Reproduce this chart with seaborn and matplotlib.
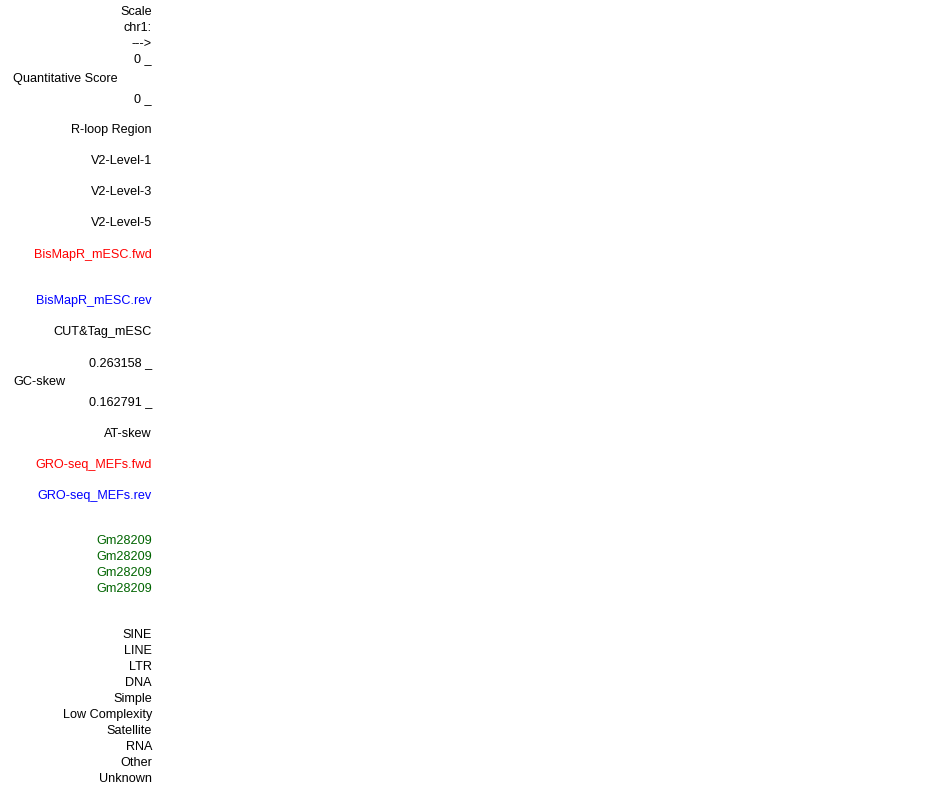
import matplotlib
matplotlib.use("Agg")
import matplotlib.pyplot as plt
import seaborn as sns

sns.set_style("white")
plt.rcParams['font.family'] = ['Liberation Sans', 'DejaVu Sans']

# Track labels (right-aligned)
labels = ["Scale", "chr1:", "--->", "0 _", "0 _", "R-loop Region", "V2-Level-1",
          "V2-Level-3", "V2-Level-5", "BisMapR_mESC.fwd", "BisMapR_mESC.rev",
          "CUT&Tag_mESC", "0.263158 _", "0.162791 _", "AT-skew",
          "GRO-seq_MEFs.fwd", "GRO-seq_MEFs.rev",
          "Gm28209", "Gm28209", "Gm28209", "Gm28209",
          "SINE", "LINE", "LTR", "DNA", "Simple", "Low Complexity",
          "Satellite", "RNA", "Other", "Unknown"]
label_rows = [10, 26, 42, 57, 97, 128, 159, 190, 221, 253, 299, 330, 361, 400, 432,
              463, 494, 539, 555, 571, 587, 633, 649, 665, 681, 697, 713, 729, 745,
              761, 777]
label_colors = (["black"] * 9 + ["#ff0000", "#0000ff"] + ["black"] * 4 +
                ["#ff0000", "#0000ff"] + ["#006400"] * 4 + ["black"] * 10)

# Left-aligned side labels
side_labels = ["Quantitative Score", "GC-skew"]
side_rows = [77, 380]

fig = plt.figure(figsize=(9.5, 7.86), dpi=100)
ax = fig.add_axes([0, 0, 1, 1])
ax.set_xlim(0, 950)
ax.set_ylim(786, 0)
ax.axis("off")

dy = 1.8
fs = 9.1
for lab, y, c in zip(labels, label_rows, label_colors):
    ax.text(152, y + dy, lab, ha="right", va="center", fontsize=fs, color=c)
for lab, y in zip(side_labels, side_rows):
    ax.text(13, y + dy, lab, ha="left", va="center", fontsize=fs, color="black")

fig.savefig("out.png", dpi=100, facecolor="white")
